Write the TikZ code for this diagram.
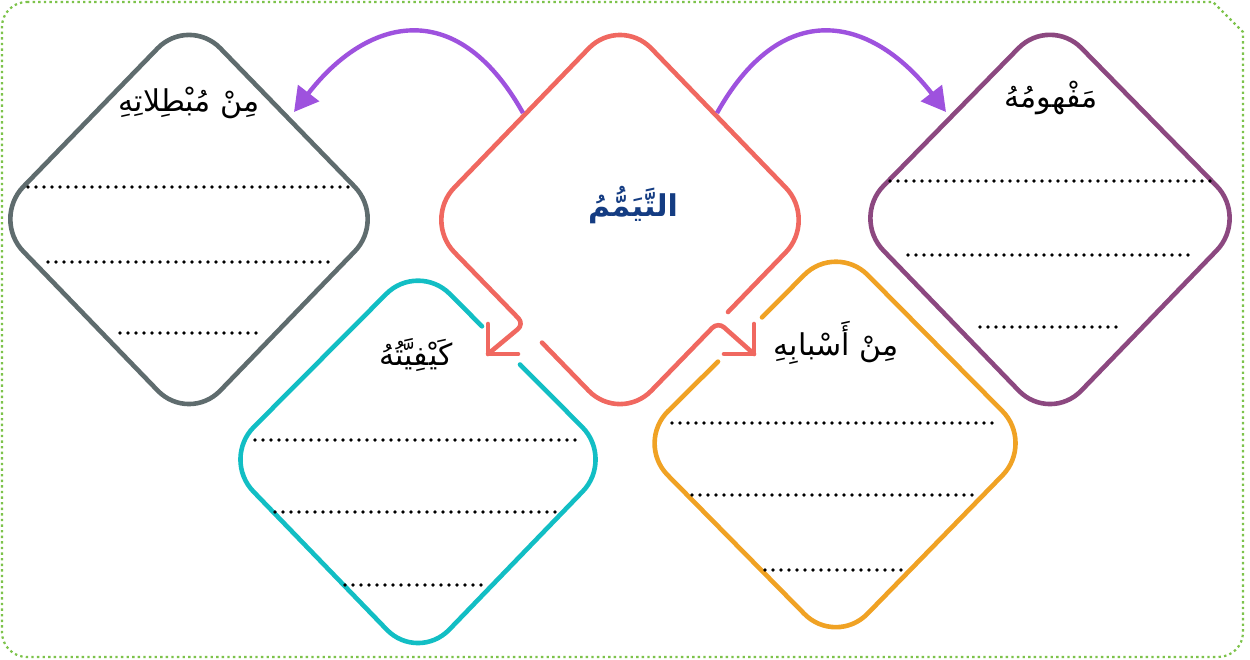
\documentclass[tikz,border=0pt]{standalone}
\usepackage{fontspec}
\usetikzlibrary{arrows.meta}
\TeXXeTstate=1
\newfontfamily\arabicfont[Script=Arabic]{DejaVu Sans}
\definecolor{grayc}{RGB}{95,108,110}
\definecolor{redc}{RGB}{240,104,96}
\definecolor{purplec}{RGB}{140,72,128}
\definecolor{cyanc}{RGB}{18,190,196}
\definecolor{orangec}{RGB}{240,162,36}
\definecolor{arrowc}{RGB}{158,82,222}
\definecolor{greenc}{RGB}{125,195,75}
\definecolor{titlec}{RGB}{20,60,130}
\tikzset{
  edge/.style={line width=4.6pt, line cap=round, line join=round},
  dots/.style={line width=3.6pt, line cap=round, dash pattern=on 0pt off 8pt},
  lab/.style={font=\arabicfont\fontsize{30}{34}\selectfont, inner sep=0pt},
  ttl/.style={font=\arabicfont\bfseries\fontsize{30}{34}\selectfont, inner sep=0pt, text=titlec},
  flow/.style={line width=4.4pt, arrowc, -{Triangle[length=24pt,width=26pt]}},
  frame/.style={greenc, line width=2.2pt, line cap=butt, dash pattern=on 2.4pt off 3.2pt}
}
\begin{document}
\begin{tikzpicture}[x=1pt,y=-1pt]
\useasboundingbox (0,0) rectangle (1250,659);
% frame
\draw[frame] (27,2) -- (1213,2) -- (1243,32) -- (1243,632)
  .. controls (1243,646) and (1232,657) .. (1218,657) -- (27,657)
  .. controls (13,657) and (2,646) .. (2,632) -- (2,27)
  .. controls (2,13) and (13,2) .. (27,2) -- cycle;
% gray diamond
\draw[edge,grayc,rounded corners=45pt] (287.5,117.5) -- (386,219) -- (189,423) -- (-8,219) -- (189,16) -- cycle;
% purple diamond
\draw[edge,purplec,rounded corners=45pt] (1149,117) -- (1248,218) -- (1050,423) -- (852,218) -- (1050,16) -- cycle;
% cyan diamond (with gap)
\draw[edge,cyanc,rounded corners=45pt] (520,364.5) -- (614,459) -- (418,662) -- (222,459) -- (418,262) -- (482,326.3);
% orange diamond (with gap)
\draw[edge,orangec,rounded corners=45pt] (762,317.4) -- (836,243) -- (1034,443) -- (836,646) -- (636,443) -- (718,361.6);
% red central shape
\coordinate (ra0) at (728,312);
\coordinate (rR) at (817,220);
\coordinate (rT) at (620,16);
\coordinate (rL) at (423,220);
\coordinate (rB) at (620,423);
\coordinate (b1) at (524,324);
\coordinate (t1) at (488,354);
\coordinate (rb0) at (542,342.6);
\coordinate (b2) at (718,322);
\coordinate (t2) at (754,354);
\draw[edge,redc,rounded corners=45pt] (ra0) -- (rR) -- (rT) -- (rL) [rounded corners=8pt] -- (b1) -- (t1);
\draw[edge,redc] (488,324) -- (t1) -- (518,354);
\draw[edge,redc,rounded corners=45pt] (rb0) -- (rB) [rounded corners=8pt] -- (b2) -- (t2);
\draw[edge,redc] (754,324) -- (t2) -- (724,354);
% curved arrows
\coordinate (s1) at (523,113);
\coordinate (e1) at (294,112);
\coordinate (s2) at (717,113);
\coordinate (e2) at (946,112);
\draw[flow] (s1) .. controls (455,-8) and (365,20) .. (e1);
\draw[flow] (s2) .. controls (785,-8) and (875,20) .. (e2);
% dotted lines
\draw[dots] (28,187) -- (352,187);
\draw[dots] (48,262) -- (332,262);
\draw[dots] (120,333) -- (258,333);
\draw[dots] (890,181) -- (1215,181);
\draw[dots] (908,255) -- (1195,255);
\draw[dots] (980,327) -- (1120,327);
\draw[dots] (255,440) -- (580,440);
\draw[dots] (275,512) -- (558,512);
\draw[dots] (345,585) -- (488,585);
\draw[dots] (672,423) -- (998,423);
\draw[dots] (692,495) -- (978,495);
\draw[dots] (765,570) -- (905,570);
% labels
\node[ttl] (title) at (633,205) {\beginR التَّيَمُّمُ\endR};
\node[lab] (l1) at (189,103) {\beginR مِنْ مُبْطِلاتِهِ\endR};
\node[lab] (l2) at (1051,98) {\beginR مَفْهومُهُ\endR};
\node[lab] (l3) at (416,355) {\beginR كَيْفِيَّتُهُ\endR};
\node[lab] (l4) at (836,343) {\beginR مِنْ أَسْبابِهِ\endR};
\end{tikzpicture}
\end{document}
